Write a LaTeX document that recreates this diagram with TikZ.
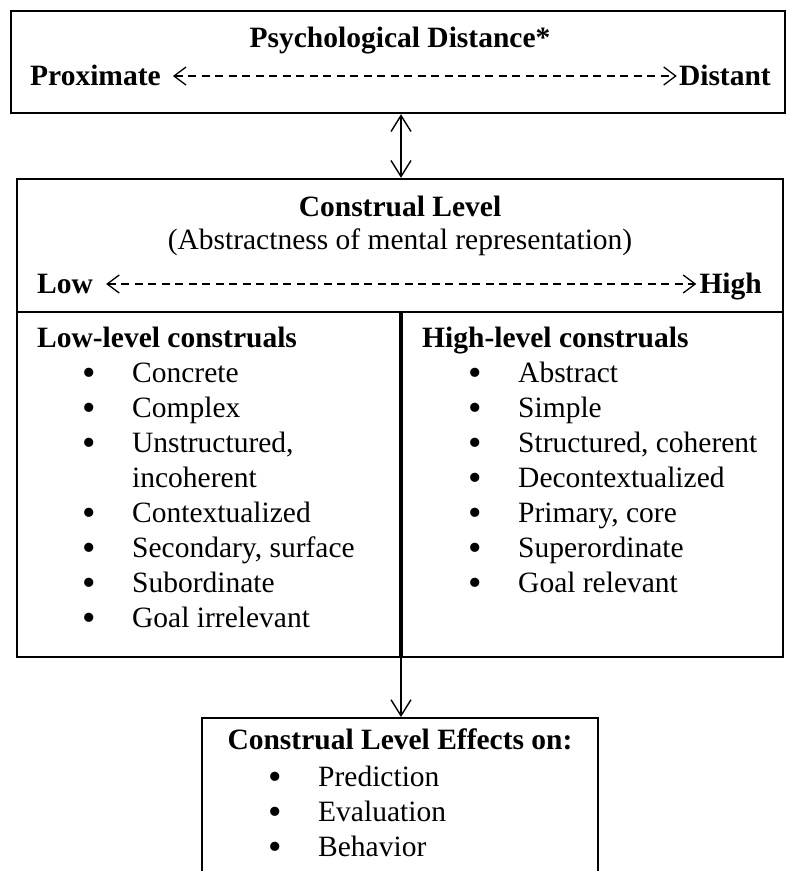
\documentclass[tikz,border=0pt]{standalone}
\usepackage{fontspec}
\setmainfont{Liberation Serif}
\usetikzlibrary{arrows.meta}

\newcommand{\bul}{\makebox[50pt][l]{\raisebox{-3pt}{\scalebox{1.3}{\textbullet}}}}

\begin{document}
\begin{tikzpicture}[
            x=1pt, y=-1pt,
            every node/.style={inner sep=0pt, font=\fontsize{29.5}{35}\selectfont},
            box/.style={draw, line width=2.4pt},
            rule/.style={line width=2.4pt},
            head/.style={font=\fontsize{29.5}{35}\selectfont\bfseries},
            item/.style={anchor=base west},
            dasharrow/.style={<->, line width=1.3pt, dash pattern=on 8pt off 5.5pt,
                >={Straight Barb[length=12pt,width=18pt]}},
            >={Straight Barb[length=16pt,width=20pt]}
        ]
            \useasboundingbox (0,0) rectangle (789,871);
            \clip (0,0) rectangle (789,871);

            % Boxes
            \node[box, minimum width=774pt, minimum height=102pt] (psych) at (398,62) {};
            \node[box, minimum width=766pt, minimum height=478pt] (level) at (400,418) {};
            \node[box, minimum width=396pt, minimum height=240pt, anchor=north] (effects) at (400,717) {};
            \coordinate (divtop) at (401,312);

            % Psychological distance
            \node[head, anchor=base] (pdtitle) at (400,47) {Psychological Distance*};
            \node[head, anchor=base west] (prox) at (30,85) {Proximate};
            \node[head, anchor=base east] (dist) at (771,85) {Distant};
            \draw[dasharrow] ([xshift=12pt,yshift=9pt]prox.base east) -- ([xshift=-2pt,yshift=9pt]dist.base west);

            % Construal level
            \node[head, anchor=base] (cltitle) at (400,216) {Construal Level};
            \node[anchor=base] (clsub) at (400,249) {(Abstractness of mental representation)};
            \node[head, anchor=base west] (low) at (37,293) {Low};
            \node[head, anchor=base east] (high) at (762,293) {High};
            \draw[dasharrow] ([xshift=13pt,yshift=9pt]low.base east) -- ([xshift=-3pt,yshift=9pt]high.base west);
            \draw[rule] (level.west |- divtop) -- (level.east |- divtop);
            \draw[line width=3.5pt] (divtop) -- (divtop |- level.south);

            % Low-level column
            \node[head, anchor=base west] (lowhead) at (37,347) {Low-level construals};
            \node[item] (l1) at (82,382) {\bul Concrete};
            \node[item] (l2) at (82,417) {\bul Complex};
            \node[item] (l3) at (82,452) {\bul Unstructured,};
            \node[item] (l3b) at (82,487) {\makebox[50pt]{}incoherent};
            \node[item] (l4) at (82,522) {\bul Contextualized};
            \node[item] (l5) at (82,557) {\bul Secondary, surface};
            \node[item] (l6) at (82,592) {\bul Subordinate};
            \node[item] (l7) at (82,627) {\bul Goal irrelevant};

            % High-level column
            \node[head, anchor=base west] (highhead) at (422,347) {High-level construals};
            \node[item] (h1) at (468,382) {\bul Abstract};
            \node[item] (h2) at (468,417) {\bul Simple};
            \node[item] (h3) at (468,452) {\bul Structured, coherent};
            \node[item] (h4) at (468,487) {\bul Decontextualized};
            \node[item] (h5) at (468,522) {\bul Primary, core};
            \node[item] (h6) at (468,557) {\bul Superordinate};
            \node[item] (h7) at (468,592) {\bul Goal relevant};

            % Effects
            \node[head, anchor=base] (efftitle) at (400,749) {Construal Level Effects on:};
            \node[item] (e1) at (268,786) {\bul Prediction};
            \node[item] (e2) at (268,821) {\bul Evaluation};
            \node[item] (e3) at (268,856) {\bul Behavior};

            % Edges
            \draw[<->, line width=1.4pt] (psych.south -| divtop) -- (level.north -| divtop);
            \draw[->, line width=1.4pt] (level.south -| divtop) -- (effects.north -| divtop);
        \end{tikzpicture}
\end{document}
